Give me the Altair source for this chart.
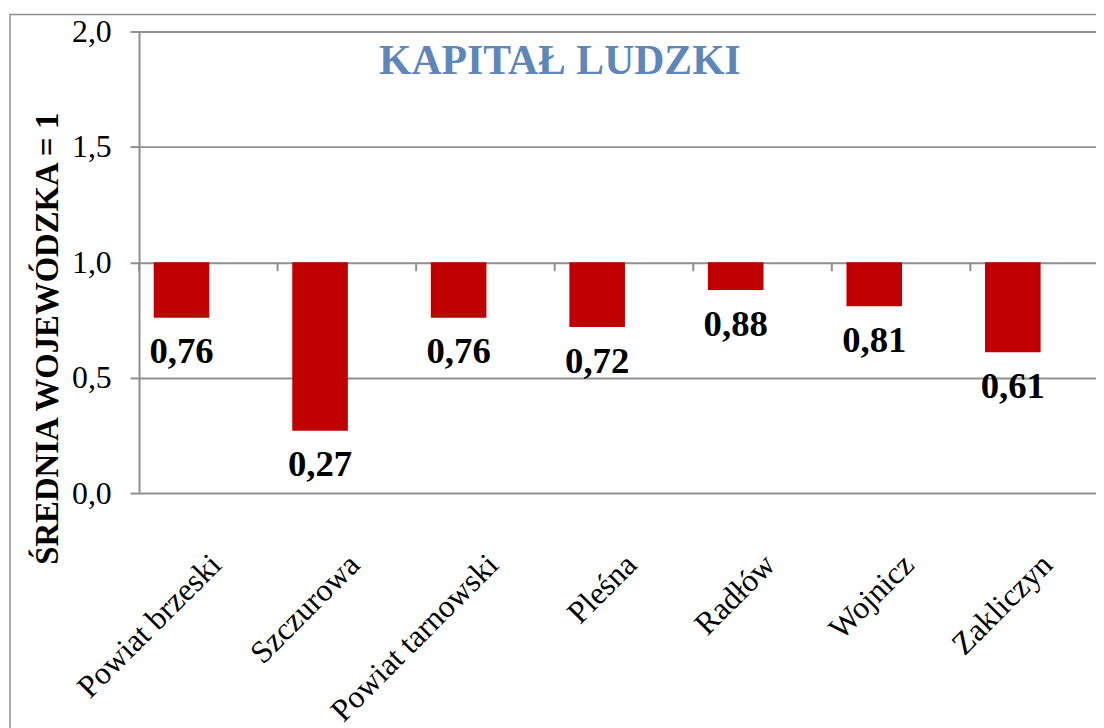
import altair as alt
import pandas as pd

categories = ["Powiat brzeski", "Szczurowa", "Powiat tarnowski", "Pleśna", "Radłów", "Wojnicz", "Zakliczyn"]
values = [0.76, 0.27, 0.76, 0.72, 0.88, 0.81, 0.61]
labels = ["0,76", "0,27", "0,76", "0,72", "0,88", "0,81", "0,61"]
y_ticks = [0, 0.5, 1.0, 1.5, 2.0]
chart_title = "KAPITAŁ LUDZKI"
y_title = "ŚREDNIA WOJEWÓDZKA = 1"
baseline_value = 1.0

df = pd.DataFrame({"cat": categories, "value": values, "label": labels})

FONT = "Liberation Serif"
GRAY = "#8f8f8f"
RED = "#c00000"

x_scale = alt.Scale(domain=categories, range=[0, 977], paddingInner=0, paddingOuter=0)
y_scale = alt.Scale(domain=[0, 2], nice=False, zero=False)

x_axis = alt.Axis(title="", labelAngle=315, labelAlign="right", labelBaseline="top",
                  labelPadding=56, labelOffset=-3, labelFont=FONT, labelFontSize=32,
                  labelLimit=0, labelColor="black", ticks=False, domain=False, grid=False)
y_axis = alt.Axis(values=y_ticks, title=y_title, titleFont=FONT, titleFontSize=33,
                  titleFontWeight="bold", titleColor="black", titleAngle=270,
                  titleX=-92, titleY=309, titleAlign="center", titleBaseline="middle",
                  titleLimit=0,
                  labelExpr="replace(format(datum.value, '.1f'), '.', ',')",
                  labelFont=FONT, labelFontSize=32, labelColor="black", labelPadding=19,
                  grid=True, gridColor=GRAY, gridWidth=2,
                  domain=True, domainColor=GRAY, domainWidth=2,
                  ticks=True, tickSize=9, tickColor=GRAY, tickWidth=2)

X = alt.X("cat:N", scale=x_scale, sort=categories, axis=x_axis)
Y = alt.Y("value:Q", scale=y_scale, axis=y_axis)

base = alt.Chart(df)

bars = base.mark_bar(color=RED, width=56, xOffset=-27).encode(
    x=X, y=Y, y2=alt.datum(baseline_value),
)

texts = base.mark_text(font=FONT, fontSize=37, fontWeight="bold", color="black",
                       baseline="top", align="center", dy=17, xOffset=-27).encode(
    x=X, y=Y, text="label:N",
)

cat_ticks = base.mark_rule(color=GRAY, strokeWidth=2, y2Offset=9).encode(
    x=alt.X("cat:N", scale=x_scale, sort=categories, axis=x_axis, bandPosition=0),
    y=alt.datum(baseline_value),
    y2=alt.datum(baseline_value),
)

title_layer = alt.Chart(alt.Data(values=[{"t": chart_title}])).mark_text(
    font=FONT, fontSize=42, fontWeight="bold", color="#5f86b8",
    align="center", baseline="alphabetic").encode(
    x=alt.value(424), y=alt.value(43), text="t:N")

frame = alt.Chart(alt.Data(values=[{"f": 1}])).mark_rect(
    fillOpacity=0, stroke=GRAY, strokeWidth=1.5).encode(
    x=alt.value(-130), x2=alt.value(1200), y=alt.value(-17), y2=alt.value(900))

chart = alt.layer(bars, cat_ticks, texts, title_layer, frame).properties(
    width=964, height=465,
    autosize=alt.AutoSizeParams(type="none"),
    padding={"left": 132, "top": 21, "right": 0, "bottom": 234},
).configure(background="white").configure_view(strokeWidth=0)

chart.save("out.html", embed_options={"renderer": "svg", "actions": False})
